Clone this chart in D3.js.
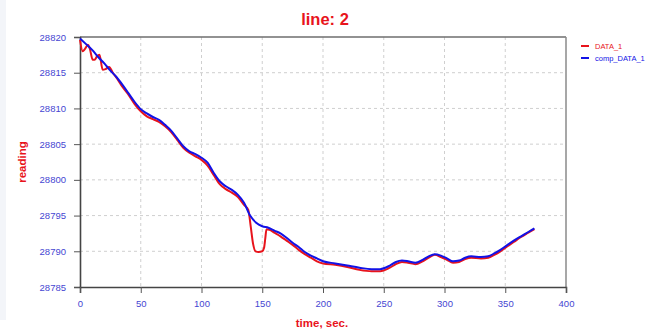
<!DOCTYPE html>
<html><head><meta charset="utf-8">
<script src="https://cdn.jsdelivr.net/npm/d3@7"></script>
<style>body{margin:0;background:#fff;}svg{display:block;font-family:"Liberation Sans",Arial,sans-serif;}</style>
</head><body>
<svg id="chart" width="651" height="329"></svg>
<script>
// ---- data ----
const xTicks = [0, 50, 100, 150, 200, 250, 300, 350, 400];
const yTicks = [28785, 28790, 28795, 28800, 28805, 28810, 28815, 28820];
const seriesNames = ["DATA_1", "comp_DATA_1"];

const data1Time = [0,2.2,4,6.5,8,10.5,12,14,16,18.7,21,24,27,30,35,40,45,50,55,60,65,70,75,80,85,90,95,100,105,110,115,120,125,130,135,138.5,140.5,142.5,144.5,147,150,151.5,152.5,153.5,156,160,165,170,175,180,185,190,195,200,210,220,230,240,247,255,260,265,270,276,282,287,292,297,302,307,312,317,322,330,336,341,346,351,357,363,369,374];
const data1Value = [28819.6,28818.0,28818.3,28818.9,28818.4,28816.8,28816.8,28817.3,28817.5,28815.4,28815.5,28815.8,28815.0,28814.3,28813.0,28811.9,28810.6,28809.6,28808.9,28808.5,28808.1,28807.5,28806.7,28805.6,28804.5,28803.8,28803.3,28802.8,28802.0,28800.7,28799.4,28798.7,28798.2,28797.6,28796.5,28795.8,28793.5,28791.0,28790.0,28789.9,28790.0,28790.5,28791.8,28793.1,28793.0,28792.6,28792.1,28791.5,28790.9,28790.2,28789.6,28789.1,28788.6,28788.3,28788.1,28787.8,28787.4,28787.2,28787.2,28787.7,28788.2,28788.5,28788.4,28788.2,28788.6,28789.1,28789.5,28789.2,28788.8,28788.4,28788.5,28788.9,28789.1,28789.0,28789.1,28789.5,28790.0,28790.6,28791.3,28792.0,28792.6,28793.1];

const compTime = [0,5,10,15,20,25,30,35,40,45,50,55,60,65,70,75,80,85,90,95,100,105,110,115,120,125,130,135,140,145,150,155,160,165,170,175,180,185,190,195,200,210,220,230,240,247,255,260,265,270,276,282,287,292,297,302,307,312,317,322,330,336,341,346,351,357,363,369,374];
const compValue = [28819.8,28819.0,28818.2,28817.2,28816.3,28815.3,28814.4,28813.3,28812.1,28810.9,28809.9,28809.3,28808.8,28808.4,28807.7,28806.9,28805.8,28804.7,28804.0,28803.6,28803.1,28802.4,28801.0,28799.8,28799.1,28798.6,28797.9,28796.8,28795.0,28794.0,28793.5,28793.3,28792.9,28792.5,28791.9,28791.2,28790.6,28789.9,28789.4,28789.0,28788.6,28788.3,28788.0,28787.7,28787.5,28787.5,28788.0,28788.5,28788.7,28788.6,28788.4,28788.8,28789.3,28789.6,28789.4,28789.0,28788.6,28788.7,28789.1,28789.3,28789.2,28789.3,28789.7,28790.2,28790.8,28791.5,28792.1,28792.7,28793.2];

// ---- layout ----
const svg = d3.select("#chart");
const L = 80, R = 566, T = 37, B = 287;
const x = d3.scaleLinear().domain([0, 400]).range([L, R]);
const y = d3.scaleLinear().domain([28785, 28820]).range([B, T]);
const tickColor = "#4646d2", red = "#e8141c", blue = "#1212e6";

svg.append("rect").attr("x",0).attr("y",0).attr("width",6).attr("height",320).attr("fill","#f3f5f9");

// grid
const g = svg.append("g");
g.selectAll(".vg").data(xTicks.slice(1, -1)).join("line")
  .attr("x1", d => x(d)).attr("x2", d => x(d)).attr("y1", T).attr("y2", B)
  .attr("stroke", "#cfcfcf").attr("stroke-dasharray", "3,3");
g.selectAll(".hg").data(yTicks.slice(1, -1)).join("line")
  .attr("x1", L).attr("x2", R).attr("y1", d => y(d)).attr("y2", d => y(d))
  .attr("stroke", "#cfcfcf").attr("stroke-dasharray", "3,3");

// frame
svg.append("line").attr("x1",L).attr("x2",R).attr("y1",T).attr("y2",T).attr("stroke","#6e6e6e").attr("stroke-width",1.5);
svg.append("line").attr("x1",R).attr("x2",R).attr("y1",T).attr("y2",B).attr("stroke","#8a8a8a").attr("stroke-width",1.5);

// axes
const yAxis = d3.axisLeft(y).tickValues(yTicks).tickSize(6).tickPadding(8).tickFormat(d3.format("d"));
const ya = svg.append("g").attr("transform", `translate(${L},0)`).call(yAxis);
const xAxis = d3.axisBottom(x).tickValues(xTicks).tickSize(6).tickPadding(7).tickFormat(d3.format("d"));
const xa = svg.append("g").attr("transform", `translate(0,${B})`).call(xAxis);
[ya, xa].forEach(a => {
  a.select(".domain").attr("stroke", "#444").attr("stroke-width", 1.6);
  a.selectAll(".tick line").attr("stroke", "#555");
  a.selectAll(".tick text").attr("fill", tickColor).style("font-size", "9.5px");
});

// lines
const line = d3.line().curve(d3.curveMonotoneX);
const pts1 = data1Time.map((t, i) => [x(t), y(data1Value[i])]);
const pts2 = compTime.map((t, i) => [x(t), y(compValue[i])]);
svg.append("path").attr("d", line(pts1)).attr("fill","none").attr("stroke",red).attr("stroke-width",2);
svg.append("path").attr("d", line(pts2)).attr("fill","none").attr("stroke",blue).attr("stroke-width",2);

// titles
svg.append("text").attr("x",325).attr("y",25).attr("text-anchor","middle")
  .attr("fill",red).style("font-size","16.5px").style("font-weight","bold").text("line: 2");
svg.append("text").attr("x",322).attr("y",327).attr("text-anchor","middle")
  .attr("fill",red).style("font-size","11.5px").style("font-weight","bold").text("time, sec.");
svg.append("text").attr("transform","translate(26,162) rotate(-90)").attr("text-anchor","middle")
  .attr("fill",red).style("font-size","11.5px").style("font-weight","bold").text("reading");

// legend
const legColors = [red, blue];
const leg = svg.append("g");
seriesNames.forEach((n, i) => {
  const ly = 46 + i * 12;
  leg.append("line").attr("x1",581).attr("x2",589).attr("y1",ly).attr("y2",ly).attr("stroke",legColors[i]).attr("stroke-width",2);
  leg.append("text").attr("x",595).attr("y",ly+2.5).attr("fill",legColors[i]).style("font-size","7.5px").text(n);
});
</script>
</body></html>
